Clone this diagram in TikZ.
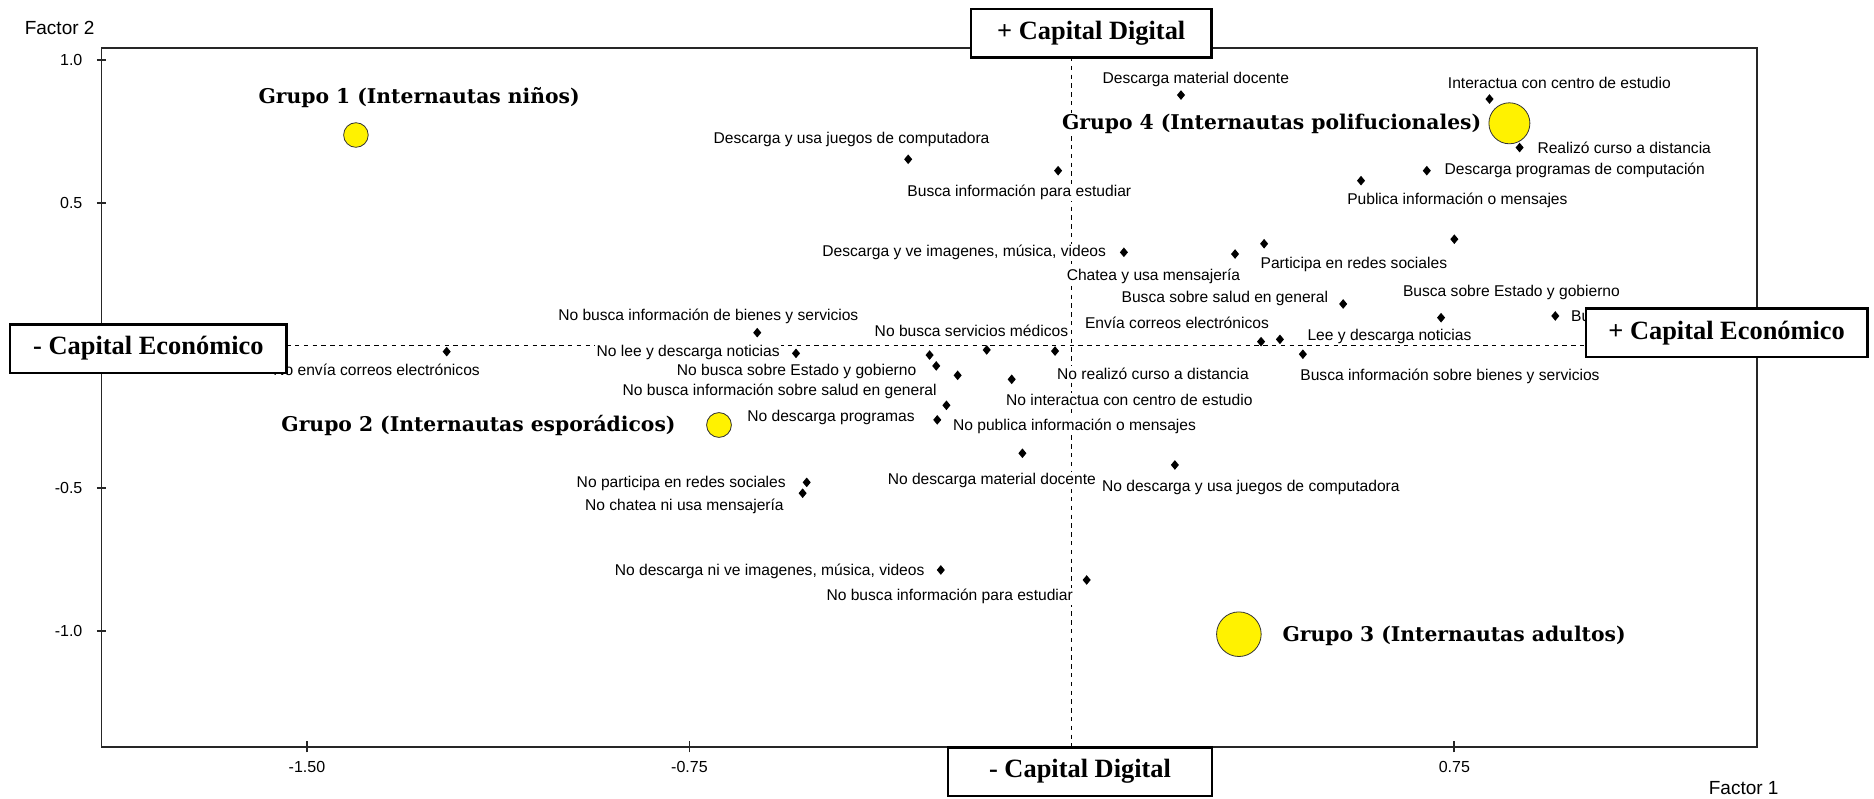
\documentclass[tikz,border=0pt]{standalone}
\usepackage{fontspec}
\setmainfont{Liberation Sans}
\newfontfamily\grpfont{DejaVu Serif}
\newfontfamily\capfont{Liberation Serif}
\usetikzlibrary{shapes.geometric}

\begin{document}
\begin{tikzpicture}[x=254.95pt,y=142.7pt,
  itempt/.style={diamond,fill=black,inner sep=0pt,minimum width=4.2pt,minimum height=5pt},
  lbl/.style={fill=white,inner sep=0.6pt,font=\fontsize{7.8}{9}\selectfont},
  grp/.style={circle,draw=black!80,fill=yellow,inner sep=0pt,thin},
  grplbl/.style={fill=white,inner sep=0.6pt,font=\grpfont\bfseries\fontsize{10.15}{12}\selectfont},
  capbox/.style={draw,line width=1.2pt,fill=white,inner sep=0pt,minimum height=24.2pt,font=\capfont\bfseries\fontsize{13.2}{15}\selectfont},
  axlbl/.style={font=\fontsize{8}{9}\selectfont}]
\useasboundingbox (-2.102,-1.589) rectangle (1.573,1.210);
\draw[line width=0.9pt,black!85] (-1.903,-1.406) rectangle (1.343,1.041);
\foreach \y/\n in {1.0/a,0.5/b,-0.5/c,-1.0/d} {
  \draw[line width=0.9pt,black!85] ([xshift=-2.3pt]-1.903,\y) -- ([xshift=2.3pt]-1.903,\y);
  \node[axlbl,anchor=east] (yl\n) at ([xshift=-6pt]-1.903,\y) {\y};
}
\foreach \x/\n in {-1.50/a,-0.75/b,0.75/c} {
  \draw[line width=0.9pt,black!85] ([yshift=-2.8pt]\x,-1.406) -- ([yshift=2.8pt]\x,-1.406);
  \node[axlbl] (xl\n) at (\x,-1.477) {\x};
}
\node[font=\fontsize{9.5}{11}\selectfont] (f2) at (-1.985,1.112) {Factor 2};
\node[font=\fontsize{9.5}{11}\selectfont] (f1) at (1.3175,-1.551) {Factor 1};
\draw[dash pattern=on 2.2pt off 2.2pt,line width=0.5pt] (0,1.041) -- (0,-1.406);
\draw[dash pattern=on 2.2pt off 2.2pt,line width=0.5pt] (-1.903,0) -- (1.343,0);

% etiquetas
\node[lbl] (ldmd) at (0.243,0.930) {Descarga material docente};
\node[lbl] (lice) at (0.956,0.918) {Interactua con centro de estudio};
\node[lbl,anchor=west] (lrcd) at (0.910,0.691) {Realizó curso a distancia};
\node[lbl,anchor=west] (ldpc) at (0.728,0.612) {Descarga programas de computación};
\node[lbl] (lpim) at (0.756,0.509) {Publica información o mensajes};
\node[lbl] (lduj) at (-0.432,0.722) {Descarga y usa juegos de computadora};
\node[lbl] (lbie) at (-0.103,0.535) {Busca información para estudiar};
\node[lbl,anchor=east] (ldvi) at (0.070,0.326) {Descarga y ve imagenes, música, videos};
\node[lbl] (lcum) at (0.160,0.241) {Chatea y usa mensajería};
\node[lbl] (lprs) at (0.553,0.284) {Participa en redes sociales};
\node[lbl] (lbsg) at (0.300,0.166) {Busca sobre salud en general};
\node[lbl] (lece) at (0.206,0.080) {Envía correos electrónicos};
\node[lbl,anchor=west] (lldn) at (0.459,0.030) {Lee y descarga noticias};
\node[lbl] (lbeg) at (0.862,0.185) {Busca sobre Estado y gobierno};
\node[lbl,anchor=west] (lbsm) at (0.976,0.103) {Bu};
\node[lbl,anchor=west] (lbib) at (0.445,-0.107) {Busca información sobre bienes y servicios};
\node[lbl,anchor=east] (lnec) at (-1.158,-0.084) {No envía correos electrónicos};
\node[lbl] (lnbb) at (-0.713,0.101) {No busca información de bienes y servicios};
\node[lbl,anchor=east] (lnld) at (-0.570,-0.024) {No lee y descarga noticias};
\node[lbl,anchor=east] (lnbe) at (-0.302,-0.092) {No busca sobre Estado y gobierno};
\node[lbl] (lnbs) at (-0.197,0.052) {No busca servicios médicos};
\node[lbl,anchor=west] (lnrc) at (-0.032,-0.098) {No realizó curso a distancia};
\node[lbl,anchor=west] (lnic) at (-0.132,-0.191) {No interactua con centro de estudio};
\node[lbl,anchor=east] (lnsg) at (-0.262,-0.162) {No busca información sobre salud en general};
\node[lbl,anchor=east] (lndp) at (-0.305,-0.253) {No descarga programas};
\node[lbl,anchor=west] (lnpi) at (-0.236,-0.285) {No publica información o mensajes};
\node[lbl] (lndm) at (-0.157,-0.472) {No descarga material docente};
\node[lbl] (lnduj) at (0.351,-0.497) {No descarga y usa juegos de computadora};
\node[lbl,anchor=east] (lnprs) at (-0.558,-0.4835) {No participa en redes sociales};
\node[lbl,anchor=east] (lncm) at (-0.562,-0.565) {No chatea ni usa mensajería};
\node[lbl,anchor=east] (lndvi) at (-0.286,-0.793) {No descarga ni ve imagenes, música, videos};
\node[lbl,anchor=east] (lnbie) at (0.005,-0.881) {No busca información para estudiar};

% puntos
\node[itempt] (dmd) at (0.214,0.877) {};
\node[itempt] (ice) at (0.819,0.863) {};
\node[itempt] (rcd) at (0.878,0.693) {};
\node[itempt] (dpc) at (0.696,0.612) {};
\node[itempt] (pim) at (0.567,0.577) {};
\node[itempt] (duj) at (-0.321,0.652) {};
\node[itempt] (bie) at (-0.027,0.612) {};
\node[itempt] (dvi) at (0.102,0.326) {};
\node[itempt] (cum) at (0.320,0.320) {};
\node[itempt] (prs) at (0.377,0.356) {};
\node[itempt] (pxa) at (0.750,0.372) {};
\node[itempt] (bsg) at (0.532,0.145) {};
\node[itempt] (ece) at (0.371,0.013) {};
\node[itempt] (ldn) at (0.408,0.021) {};
\node[itempt] (beg) at (0.724,0.097) {};
\node[itempt] (bsm) at (0.948,0.103) {};
\node[itempt] (bib) at (0.453,-0.031) {};
\node[itempt] (nec) at (-1.226,-0.022) {};
\node[itempt] (nbb) at (-0.617,0.0445) {};
\node[itempt] (nld) at (-0.541,-0.028) {};
\node[itempt] (pxb) at (-0.279,-0.034) {};
\node[itempt] (nbe) at (-0.266,-0.072) {};
\node[itempt] (pxc) at (-0.224,-0.105) {};
\node[itempt] (nbs) at (-0.167,-0.016) {};
\node[itempt] (nrc) at (-0.033,-0.020) {};
\node[itempt] (nic) at (-0.118,-0.119) {};
\node[itempt] (nsg) at (-0.246,-0.210) {};
\node[itempt] (ndp) at (-0.264,-0.261) {};
\node[itempt] (ndm) at (-0.097,-0.378) {};
\node[itempt] (nduj) at (0.202,-0.419) {};
\node[itempt] (nprs) at (-0.520,-0.480) {};
\node[itempt] (ncm) at (-0.528,-0.518) {};
\node[itempt] (ndvi) at (-0.257,-0.787) {};
\node[itempt] (nbie) at (0.029,-0.822) {};

% grupos
\node[grp,minimum size=12.3pt] (g1) at (-1.404,0.737) {};
\node[grp,minimum size=12.4pt] (g2) at (-0.692,-0.279) {};
\node[grp,minimum size=22.3pt] (g3) at (0.3275,-1.012) {};
\node[grp,minimum size=20.5pt] (g4) at (0.858,0.778) {};
\node[grplbl] (lg1) at (-1.280,0.867) {Grupo 1 (Internautas niños)};
\node[grplbl,anchor=east] (lg2) at (-0.774,-0.282) {Grupo 2 (Internautas esporádicos)};
\node[grplbl,anchor=west] (lg3) at (0.410,-1.018) {Grupo 3 (Internautas adultos)};
\node[grplbl,anchor=east] (lg4) at (0.806,0.776) {Grupo 4 (Internautas polifucionales)};

% cajas
\node[capbox,minimum width=120.3pt] (cdp) at (0.038,1.094) {+ Capital Digital};
\node[capbox,minimum width=131.9pt] (cdm) at (0.016,-1.4935) {- Capital Digital};
\node[capbox,minimum width=138.1pt] (cem) at (-1.811,-0.011) {- Capital Económico};
\node[capbox,minimum width=140.9pt] (cep) at (1.284,0.044) {+ Capital Económico};
\end{tikzpicture}
\end{document}
